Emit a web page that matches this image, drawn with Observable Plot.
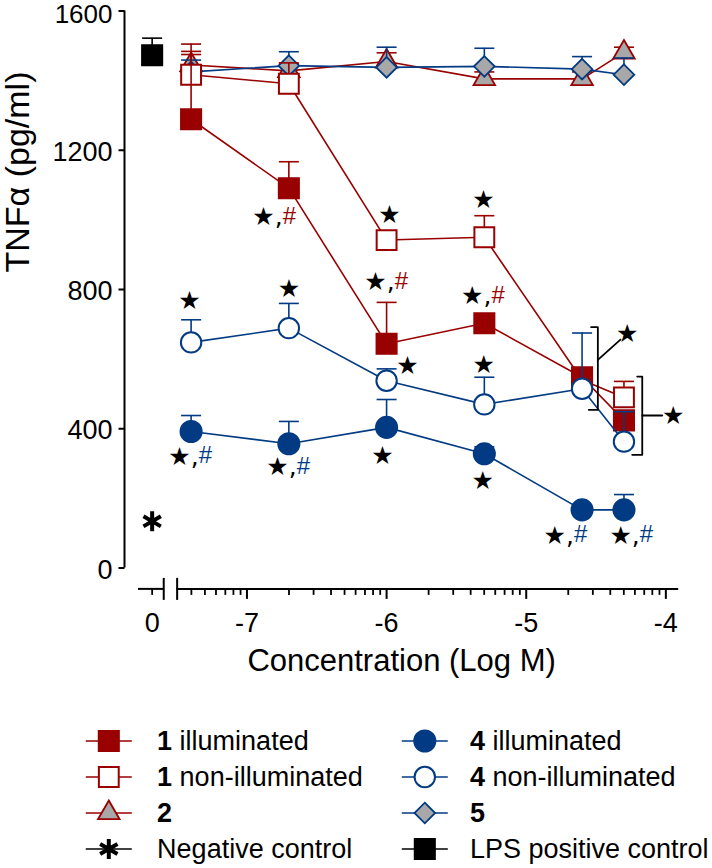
<!DOCTYPE html>
<html><head><meta charset="utf-8">
<script src="https://cdn.jsdelivr.net/npm/d3@7"></script>
<script src="https://cdn.jsdelivr.net/npm/@observablehq/plot@0.6"></script>
<style>
body{margin:0;background:#fff;}
#chart svg,#legend svg{display:block}
</style></head><body><div id="chart"></div><div id="legend"></div>
<script>
// ---------------- data ----------------
const concLogM = [-7.4, -6.7, -6, -5.3, -4.6, -4.3];
const c1Illum = [1289, 1091, 644, 703, 548, 424];
const c1IllumSem = [195, 76, 119, 20, 25, 20];
const c1Dark = [1417, 1391, 942, 950, 540, 490];
const c1DarkSem = [88, 60, 15, 62, 20, 46];
const c2 = [1445, 1428, 1455, 1405, 1405, 1481];
const c2Sem = [30, 20, 25, 20, 20, 15];
const c4Illum = [392, 357, 404, 328, 167, 167];
const c4IllumSem = [46, 64, 80, 20, 15, 44];
const c4Dark = [648, 689, 538, 470, 515, 363];
const c4DarkSem = [65, 71, 34, 78, 160, 86];
const c5 = [1425, 1443, 1438, 1441, 1433, 1417];
const c5Sem = [34, 40, 58, 52, 36, 48];
const negControl = 134;
const lpsControl = 1473;
const lpsSem = 49;

const yTicks = [0, 400, 800, 1200, 1600];
const xMajor = [-7, -6, -5, -4];
const xMajorLabels = ["-7", "-6", "-5", "-4"];
const controlLabel = "0";

// significance annotations: [log M, pg/ml]
const starOnlyX = [-7.411, -6.700, -5.979, -5.850, -6.029, -5.306, -5.304, -5.311, -4.277, -3.947];
const starOnlyY = [766, 802, 1013, 579, 323, 1056, 582, 251, 673, 438];
const starHashX = [-7.346, -6.644, -6.744, -5.942, -5.249, -4.658, -4.187];
const starHashY = [320, 289, 1007, 821, 780, 93, 93];
const starHashGroup = ["4", "4", "1", "1", "1", "4", "4"];
// brackets
const bracket1 = [[-4.535, 691.7], [-4.487, 691.7], [-4.487, 454.4], [-4.552, 454.4]];
const bracket1Link = [[-4.487, 598], [-4.325, 656]];
const bracket2 = [[-4.205, 550], [-4.169, 550], [-4.169, 325], [-4.241, 325]];
const bracket2Link = [[-4.169, 438], [-4.026, 438]];

// ---------------- styles / layout ----------------
const RED = "#990000", BLUE = "#023b83", GRAY = "#a8a8a8", BLACK = "#000";
const FONT = "'Liberation Sans', Arial, Helvetica, sans-serif";
const X_MIN = -7.877, X_MAX = -3.908;
const X_BREAK_L = -7.596, X_BREAK_R = -7.5, X_LEFT_START = -7.777, CTRL_X = -7.679;
const AXIS_Y = -60;

const seg = (x0, y0, x1, y1) => ({draw(c) { c.moveTo(x0, y0); c.lineTo(x1, y1); }});
const cap = seg(-10, 0, 10, 0);
const tickMajor = seg(0, 0, 0, 10);
const tickMinor = seg(0, 0, 0, 6);
const tickLeft = seg(-6, 0, 0, 0);
const breakMark = seg(0, -11, 0, 11);
const legendLine = seg(-23, 0, 23, 0);

const xMinor = [];
for (let e = -8; e <= -5; e++) for (let k = 2; k <= 9; k++) {
  const v = e + Math.log10(k);
  if (v > X_BREAK_R && v < X_MAX) xMinor.push(v);
}

const series = [
  {values: c2, sem: c2Sem, symbol: "triangle", r: 8, fill: GRAY, stroke: RED, sw: 1.8},
  {values: c5, sem: c5Sem, symbol: "diamond2", r: 9.3, fill: GRAY, stroke: BLUE, sw: 1.8},
  {values: c1Dark, sem: c1DarkSem, symbol: "square", r: 11.2, fill: "white", stroke: RED, sw: 2},
  {values: c1Illum, sem: c1IllumSem, symbol: "square", r: 11.6, fill: RED, stroke: RED, sw: 1.5},
  {values: c4Dark, sem: c4DarkSem, symbol: "circle", r: 10.2, fill: "white", stroke: BLUE, sw: 2},
  {values: c4Illum, sem: c4IllumSem, symbol: "circle", r: 10.8, fill: BLUE, stroke: BLUE, sw: 1.5}
];

const marks = [];
// y axis
marks.push(Plot.ruleX([X_MIN], {y1: 0, y2: 1600, stroke: BLACK, strokeWidth: 2}));
marks.push(Plot.dot(yTicks, {x: X_MIN, y: d => d, symbol: tickLeft, fill: "none", stroke: BLACK, strokeWidth: 2}));
marks.push(Plot.text(yTicks.slice(0, -1), {x: X_MIN, y: d => d, text: d => String(d), textAnchor: "end", dx: -12, dy: 2, fontSize: 27}));
marks.push(Plot.text(yTicks.slice(-1), {x: X_MIN, y: d => d, text: d => String(d), textAnchor: "end", dx: -12, dy: 4, fontSize: 26}));
// x axis (broken)
marks.push(Plot.ruleY([AXIS_Y], {x1: X_BREAK_R, x2: X_MAX, stroke: BLACK, strokeWidth: 2}));
marks.push(Plot.ruleY([AXIS_Y], {x1: X_LEFT_START, x2: X_BREAK_L, stroke: BLACK, strokeWidth: 2}));
marks.push(Plot.dot([X_BREAK_L, X_BREAK_R], {x: d => d, y: AXIS_Y, symbol: breakMark, fill: "none", stroke: BLACK, strokeWidth: 2}));
marks.push(Plot.dot(xMajor, {x: d => d, y: AXIS_Y, symbol: tickMajor, fill: "none", stroke: BLACK, strokeWidth: 2}));
marks.push(Plot.dot(xMinor.concat([CTRL_X]), {x: d => d, y: AXIS_Y, symbol: tickMinor, fill: "none", stroke: BLACK, strokeWidth: 1.8}));
marks.push(Plot.text(xMajor.concat([CTRL_X]), {x: d => d, y: AXIS_Y, text: (d, i) => i < xMajor.length ? xMajorLabels[i] : controlLabel, dy: 34, fontSize: 27}));
// titles
marks.push(Plot.text(["Concentration (Log M)"], {frameAnchor: "bottom", text: d => d, dy: 102.5, fontSize: 31}));
marks.push(Plot.text(["TNFα (pg/ml)"], {frameAnchor: "left", text: d => d, rotate: -90, dx: -106, dy: -17, fontSize: 34}));

// controls
marks.push(Plot.ruleX([CTRL_X], {y1: lpsControl, y2: lpsControl + lpsSem, stroke: BLACK, strokeWidth: 1.6}));
marks.push(Plot.dot([CTRL_X], {x: d => d, y: lpsControl + lpsSem, symbol: cap, fill: "none", stroke: BLACK, strokeWidth: 1.6}));
marks.push(Plot.dot([CTRL_X], {x: d => d, y: lpsControl, symbol: "square", r: 11.6, fill: BLACK, stroke: BLACK}));
marks.push(Plot.dot([CTRL_X], {x: d => d, y: negControl, symbol: "asterisk", r: 9.5, fill: "none", stroke: BLACK, strokeWidth: 4}));

// series
for (const s of series) {
  const d = concLogM.map((x, i) => ({x, y: s.values[i], top: s.values[i] + s.sem[i]}));
  marks.push(Plot.line(d, {x: "x", y: "y", stroke: s.stroke, strokeWidth: 1.6}));
  marks.push(Plot.ruleX(d, {x: "x", y1: "y", y2: "top", stroke: s.stroke, strokeWidth: 1.6}));
  marks.push(Plot.dot(d, {x: "x", y: "top", symbol: cap, fill: "none", stroke: s.stroke, strokeWidth: 1.6}));
  marks.push(Plot.dot(d, {x: "x", y: "y", symbol: s.symbol, r: s.r, fill: s.fill, stroke: s.stroke, strokeWidth: s.sw}));
}

// brackets
marks.push(Plot.line(bracket1, {stroke: BLACK, strokeWidth: 1.8}));
marks.push(Plot.line(bracket1Link, {stroke: BLACK, strokeWidth: 1.8}));
marks.push(Plot.line(bracket2, {stroke: BLACK, strokeWidth: 1.8}));
marks.push(Plot.line(bracket2Link, {stroke: BLACK, strokeWidth: 1.8}));

// significance marks
marks.push(Plot.text(starOnlyX, {x: d => d, y: (d, i) => starOnlyY[i], text: () => "★", fontSize: 25, fontFamily: "DejaVu Sans", fill: BLACK}));
marks.push(Plot.text(starHashX, {x: d => d, y: (d, i) => starHashY[i], text: () => "★,", textAnchor: "end", fontSize: 25, fontFamily: "DejaVu Sans", fill: BLACK}));
marks.push(Plot.text(starHashX, {x: d => d, y: (d, i) => starHashY[i], text: () => "#", textAnchor: "start", dy: -1, fontSize: 24, fill: (d, i) => starHashGroup[i] === "1" ? RED : BLUE}));

const chart = Plot.plot({
  width: 712, height: 700,
  marginLeft: 124, marginRight: 33.8, marginTop: 10.5, marginBottom: 132.5,
  x: {domain: [X_MIN, X_MAX], axis: null},
  y: {domain: [0, 1600], axis: null},
  style: {fontFamily: FONT, background: "white", color: "black", overflow: "visible"},
  marks
});
document.getElementById("chart").appendChild(chart);

// ---------------- legend ----------------
const legendNums = ["1", "1", "2", "", "4", "4", "5", ""];
const legendTexts = ["illuminated", "non-illuminated", "", "Negative control", "illuminated", "non-illuminated", "", "LPS positive control"];
const legendStyles = [
  {symbol: "square", r: 11.6, fill: RED, stroke: RED, sw: 1.5},
  {symbol: "square", r: 11.2, fill: "white", stroke: RED, sw: 2},
  {symbol: "triangle", r: 8, fill: GRAY, stroke: RED, sw: 1.8},
  {symbol: "asterisk", r: 9.5, fill: "none", stroke: BLACK, sw: 4},
  {symbol: "circle", r: 10.8, fill: BLUE, stroke: BLUE, sw: 1.5},
  {symbol: "circle", r: 10.2, fill: "white", stroke: BLUE, sw: 2},
  {symbol: "diamond2", r: 9.3, fill: GRAY, stroke: BLUE, sw: 1.8},
  {symbol: "square", r: 11.6, fill: BLACK, stroke: BLACK, sw: 1.5}
];
const lmarks = [];
legendStyles.forEach((s, i) => {
  const item = [{col: Math.floor(i / 4), row: i % 4}];
  lmarks.push(Plot.dot(item, {x: "col", y: "row", symbol: legendLine, fill: "none", stroke: s.stroke, strokeWidth: 1.6}));
  lmarks.push(Plot.dot(item, {x: "col", y: "row", symbol: s.symbol, r: s.r, fill: s.fill, stroke: s.stroke, strokeWidth: s.sw}));
  const tdx = item[0].col === 0 ? 48.3 : 45.2;
  if (legendNums[i]) lmarks.push(Plot.text(item, {x: "col", y: "row", text: () => legendNums[i], textAnchor: "start", dx: tdx, fontSize: 27, fontWeight: "bold"}));
  if (legendTexts[i]) lmarks.push(Plot.text(item, {x: "col", y: "row", text: () => legendTexts[i], textAnchor: "start", dx: tdx + (legendNums[i] ? 22.5 : 0), fontSize: 27}));
});
const legend = Plot.plot({
  width: 712, height: 168, margin: 0,
  x: {domain: [0, 1], range: [108.3, 424.3], axis: null},
  y: {domain: [0, 3], range: [40.5, 148.5], axis: null},
  style: {fontFamily: FONT, background: "white", color: "black", overflow: "visible"},
  marks: lmarks
});
document.getElementById("legend").appendChild(legend);
</script></body></html>
